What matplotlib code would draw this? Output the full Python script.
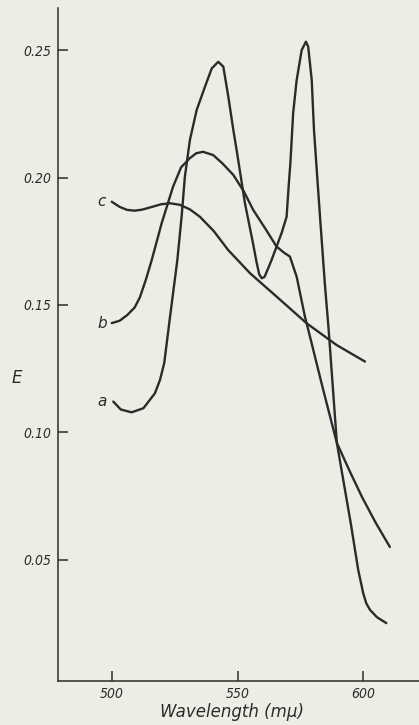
import matplotlib.pyplot as plt

# curve a: two sharp peaks
a_x = [500.5, 503.5, 507.8, 512.5, 517.1, 519.1, 520.8, 523.1, 526.0, 527.7, 529.0, 531.0,
       533.7, 537.0, 539.7, 542.3, 544.3, 546.3, 548.3, 549.6, 552.9, 556.1, 557.5,
       558.6, 559.6, 560.7, 562.0, 563.5, 567.5, 569.5, 570.4, 571.0, 572.1, 573.5, 575.5,
       577.2, 578.1, 579.5, 580.4, 581.5, 582.8, 584.7, 586.3, 589.5, 595.1, 598.0, 600.0,
       601.2, 602.7, 605.5, 609.2]
a_y = [0.1121, 0.1090, 0.1079, 0.1095, 0.1154, 0.1206, 0.1273, 0.1454, 0.1676, 0.1846,
       0.2003, 0.2147, 0.2265, 0.2356, 0.2428, 0.2454, 0.2435, 0.2317, 0.2186, 0.2108,
       0.1900, 0.1743, 0.1670, 0.1620, 0.1605, 0.1610, 0.1640, 0.1676, 0.1782,
       0.1846, 0.1978, 0.2056, 0.2252, 0.2382, 0.2500, 0.2533, 0.2513, 0.2382, 0.2186,
       0.2029, 0.1846, 0.1586, 0.1395, 0.0959, 0.0640, 0.0461, 0.0369, 0.0330, 0.0304,
       0.0275, 0.0252]

# curve b: single broad peak with shoulder
b_x = [499.9, 503, 506, 509, 511.1, 513.5, 515.8, 519.8, 524.3, 527.5, 531.0, 533.5, 536.2,
       540.3, 544, 548.3, 552.5, 556.2, 561, 565.5, 568.5, 570.8, 573.5, 576.8, 578.8, 584,
       589.5, 595, 599.5, 605, 610.6]
b_y = [0.1429, 0.1438, 0.1460, 0.1490, 0.1530, 0.1600, 0.1676, 0.1822, 0.1964, 0.2040,
       0.2076, 0.2095, 0.2101, 0.2088, 0.2055, 0.2010, 0.1945, 0.1873, 0.1800, 0.1729,
       0.1705, 0.1690, 0.1611, 0.1454, 0.1376, 0.1170, 0.0959, 0.0840, 0.0747, 0.0645,
       0.0551]

# curve c: flat then slowly falling
c_x = [499.9, 503, 506, 509, 512, 516, 519.5, 523.1, 527, 531, 535.0, 540.5, 546.2, 554.9,
       565.5, 577.5, 589.4, 600.7]
c_y = [0.1905, 0.1885, 0.1873, 0.1870, 0.1874, 0.1885, 0.1895, 0.1899, 0.1893, 0.1875, 0.1846,
       0.1790, 0.1716, 0.1625, 0.1533, 0.1428, 0.1343, 0.1278]

labels = ['a', 'b', 'c']
label_y = [0.1121, 0.1429, 0.1905]

yticks = [0.05, 0.10, 0.15, 0.20, 0.25]
xticks = [500, 550, 600]

bg = '#eeede5'
ink = '#2b2b2b'

fig = plt.figure(figsize=(4.19, 7.25), dpi=100, facecolor=bg)
ax = fig.add_axes([58/419, 44/725, 361/419, 673/725], facecolor=bg)

for xs, ys in [(a_x, a_y), (b_x, b_y), (c_x, c_y)]:
    ax.plot(xs, ys, color=ink, lw=1.7, solid_joinstyle='round', solid_capstyle='round')

for lab, ly in zip(labels, label_y):
    ax.text(496.0, ly, lab, color=ink, fontsize=11, style='italic', ha='center', va='center')

ax.set_xlim(478.5, 622.2)
ax.set_ylim(0.0025, 0.2665)

ax.spines['top'].set_visible(False)
ax.spines['right'].set_visible(False)
for s in ['left', 'bottom']:
    ax.spines[s].set_color(ink)
    ax.spines[s].set_linewidth(1.1)

ax.set_yticks(yticks)
ax.set_yticklabels(['%.2f' % v for v in yticks])
ax.set_xticks(xticks)
ax.tick_params(direction='in', length=7, width=1.1, color=ink, labelcolor=ink, labelsize=10)
ax.tick_params(axis='y', pad=5)
ax.tick_params(axis='x', pad=4)
for t in ax.get_xticklabels() + ax.get_yticklabels():
    t.set_style('italic')
    t.set_fontstretch('condensed')

ax.text(-0.114, 0.45, 'E', transform=ax.transAxes, fontsize=12, style='italic',
        color=ink, ha='center', va='center')
ax.text(0.482, -0.046, 'Wavelength (mμ)', transform=ax.transAxes, fontsize=12,
        style='italic', color=ink, ha='center', va='center')

fig.savefig('out.png', dpi=100, facecolor=bg)
